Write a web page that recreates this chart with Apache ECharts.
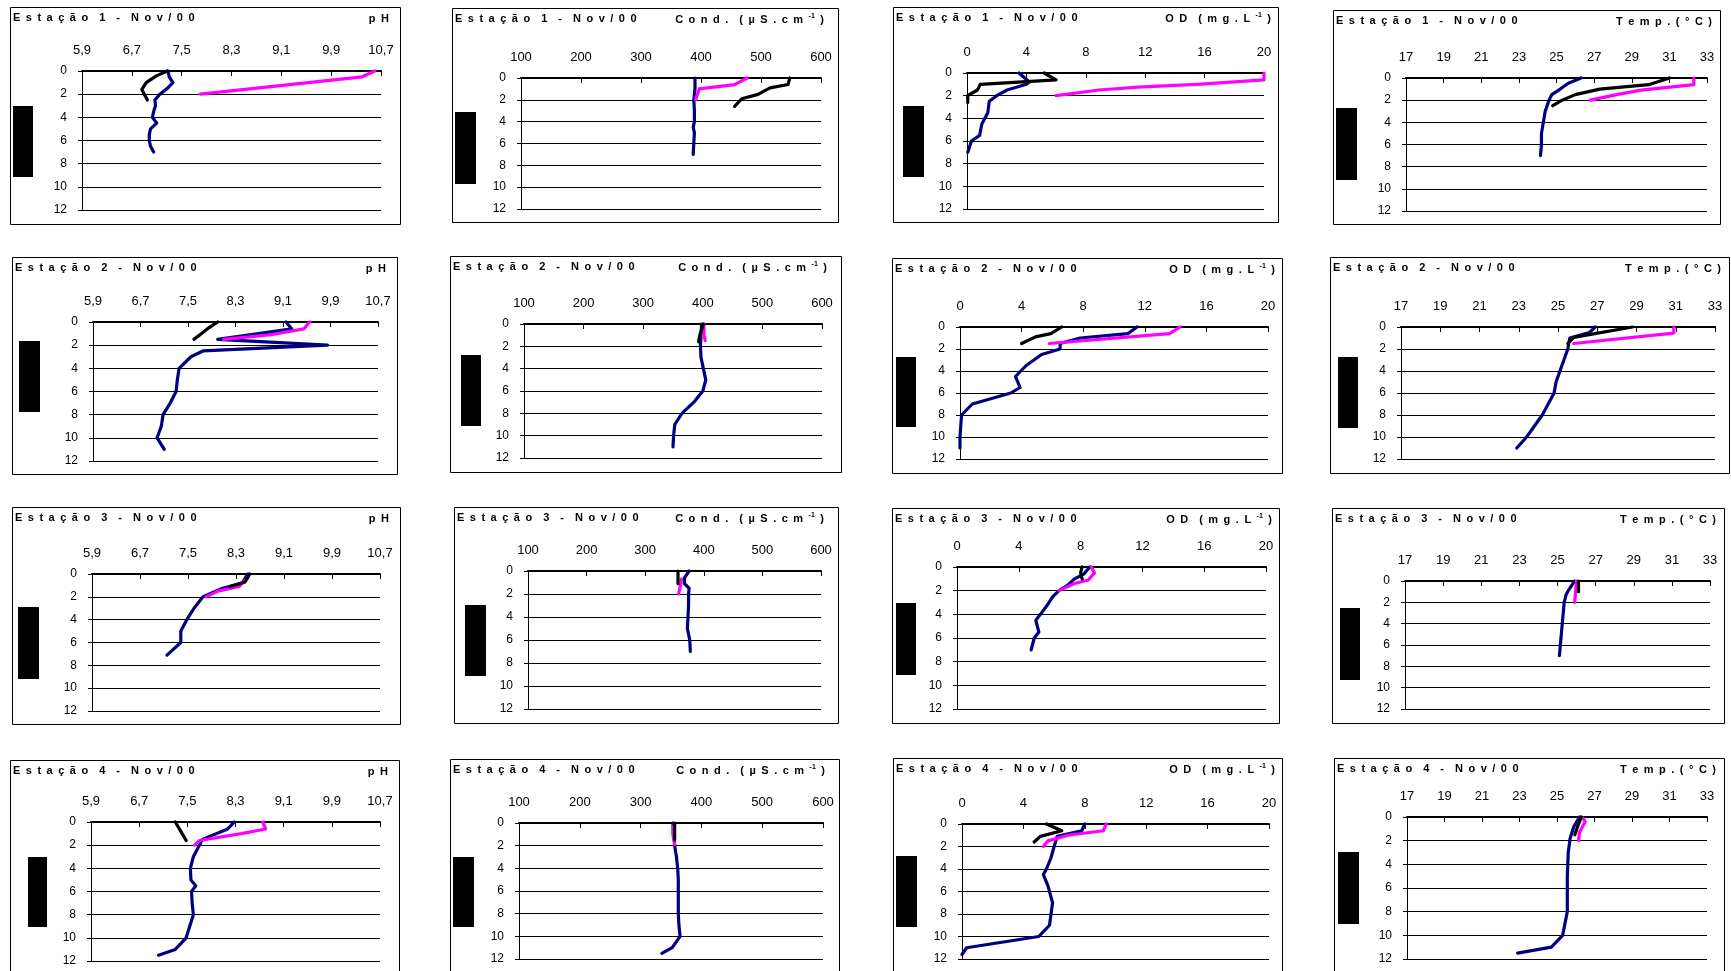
<!DOCTYPE html>
<html><head><meta charset="utf-8">
<script src="https://cdn.jsdelivr.net/npm/echarts@6/dist/echarts.min.js"></script>
<style>html,body{margin:0;padding:0;background:#fff}#c{width:1731px;height:971px}</style>
</head><body><div id="c"></div>
<script>
// ---------- tick labels ----------
const depthTicks = [0, 2, 4, 6, 8, 10, 12];
const phTicks = [5.9, 6.7, 7.5, 8.3, 9.1, 9.9, 10.7];
const condTicks = [100, 200, 300, 400, 500, 600];
const odTicks = [0, 4, 8, 12, 16, 20];
const tempTicks = [17, 19, 21, 23, 25, 27, 29, 31, 33];

const stations = ['Estação 1 - Nov/00', 'Estação 2 - Nov/00', 'Estação 3 - Nov/00', 'Estação 4 - Nov/00'];

// ---------- data: [value, depth (m)] ; k = black, m = magenta, n = navy ----------
const e1_pH_k = [[7.27,0],[7.1,0.4],[6.93,1.0],[6.86,1.6],[6.95,2.5]];
const e1_pH_m = [[10.6,0],[10.4,0.5],[7.8,2.0]];
const e1_pH_n = [[7.28,0],[7.3,0.5],[7.36,1.0],[7.27,1.5],[7.15,2.0],[7.07,2.5],[7.08,3.0],[7.05,3.5],[7.03,4.0],[7.1,4.5],[7.0,5.0],[6.98,5.5],[6.98,6.0],[7.0,6.5],[7.05,7.0]];
const e1_cond_k = [[548,0],[545,0.6],[515,0.9],[495,1.5],[468,1.9],[456,2.6]];
const e1_cond_m = [[477,0],[456,0.6],[397,1.0],[391,2.0]];
const e1_cond_n = [[390,0],[390,1],[388,2],[389,3],[389,4],[387,4.5],[389,5],[388,6],[387,7]];
const e1_od_k = [[5.2,0],[6.0,0.6],[0.9,1.0],[0.7,1.5],[0.05,2.0],[0.05,2.6]];
const e1_od_m = [[20,0],[20,0.6],[15.5,1.0],[11.5,1.25],[8.9,1.5],[6,2.0]];
const e1_od_n = [[3.5,0],[4.2,0.8],[4.0,1.0],[2.7,1.5],[2.0,2.0],[1.5,2.5],[1.4,3.5],[1.0,4.5],[0.85,5.5],[0.3,6.0],[0.05,7.0]];
const e1_temp_k = [[31,0],[29.9,0.6],[27.3,1.0],[26,1.5],[25.3,2.0],[24.8,2.5]];
const e1_temp_m = [[32.3,0],[32.3,0.6],[29.5,1.1],[28.2,1.5],[26.8,2.0]];
const e1_temp_n = [[26.3,0],[25.6,0.5],[25.2,1.0],[24.75,1.5],[24.6,2.0],[24.5,2.5],[24.4,3.0],[24.3,4.0],[24.2,5.0],[24.2,6.0],[24.15,7.0]];

const e2_pH_k = [[8.0,0],[7.85,0.5],[7.75,0.9],[7.6,1.5]];
const e2_pH_m = [[9.55,0],[9.45,0.6],[8.9,1.1],[8.1,1.5]];
const e2_pH_n = [[9.15,0],[9.25,0.6],[8.0,1.5],[9.85,2.0],[7.75,2.5],[7.55,3.0],[7.35,4.0],[7.32,5.0],[7.3,6.0],[7.2,7.0],[7.08,8.0],[7.05,9.0],[6.98,10.0],[7.1,11.0]];
const e2_cond_k = [[401,0],[398,0.5],[395,1.0],[393,1.6]];
const e2_cond_m = [[402,0],[402,1.0],[404,1.5]];
const e2_cond_n = [[398,0],[397,1],[396,2],[397,3],[401,4],[405,5],[400,6],[385,7],[365,8],[353,9],[351,10],[350,11]];
const e2_od_k = [[6.6,0],[5.9,0.6],[4.9,0.9],[4.0,1.5]];
const e2_od_m = [[14.3,0],[13.6,0.6],[5.8,1.5]];
const e2_od_n = [[11.5,0],[10.9,0.6],[7.8,1.0],[6.5,1.5],[6.5,2.0],[5.3,2.5],[4.3,3.5],[3.6,4.5],[3.9,5.5],[3.3,6.0],[0.8,7.0],[0.1,8.0],[0.05,9.0],[0,10],[0,11]];
const e2_temp_k = [[28.8,0],[25.8,0.95],[25.5,1.5]];
const e2_temp_m = [[30.9,0],[30.9,0.55],[25.8,1.5]];
const e2_temp_n = [[26.9,0],[26.6,0.5],[25.6,1.0],[25.5,2.0],[25.3,3.0],[25.1,4.0],[24.9,5.0],[24.8,6.0],[24.5,7.0],[24.2,8.0],[23.8,9.0],[23.4,10.0],[22.9,11.0]];

const e3_pH_k = [[8.53,0],[8.45,0.7],[8.2,1.1]];
const e3_pH_m = [[8.5,0.3],[8.35,1.1],[8.0,1.5],[7.8,2.0]];
const e3_pH_n = [[8.5,0],[8.4,0.8],[8.05,1.3],[7.75,2.0],[7.6,3.0],[7.48,4.0],[7.38,5.0],[7.38,6.0],[7.15,7.1]];
const e3_cond_k = [[356,0],[356,1.1]];
const e3_cond_m = [[362,0.7],[360,1.3],[357,2.0]];
const e3_cond_n = [[375,0],[367,0.6],[367,1.1],[375,1.5],[374,2],[374,3],[373,4],[372,5],[376,6],[377,7]];
const e3_od_k = [[8.1,0],[8.0,0.5],[8.1,1.0]];
const e3_od_m = [[8.7,0],[8.9,0.5],[8.5,1.1],[7.6,1.4],[6.6,2.0]];
const e3_od_n = [[8.6,0],[8.2,0.6],[7.6,1.0],[7.2,1.5],[6.6,2.0],[6.2,2.5],[5.8,3.3],[5.4,4.0],[5.1,4.5],[5.3,5.5],[5.0,6.0],[4.8,7.0]];
const e3_temp_k = [[26.1,0],[26.1,1.0]];
const e3_temp_m = [[26.0,0],[25.95,1.0],[25.9,2.0]];
const e3_temp_n = [[25.9,0],[25.6,0.8],[25.45,1.3],[25.35,2.0],[25.3,3.0],[25.25,4.0],[25.2,5.0],[25.15,6.0],[25.1,7.0]];

const e4_pH_k = [[7.3,0],[7.38,0.7],[7.48,1.6]];
const e4_pH_m = [[8.75,0],[8.8,0.6],[8.4,1.0],[7.7,1.6],[7.62,2.0]];
const e4_pH_n = [[8.28,0],[8.17,0.6],[7.75,1.5],[7.65,2.5],[7.6,3.0],[7.55,4.0],[7.56,5.0],[7.64,5.5],[7.57,6.0],[7.58,7.0],[7.6,8.0],[7.54,9.0],[7.48,10.0],[7.3,11.0],[7.02,11.5]];
const e4_cond_k = [[356,0],[356,1.5]];
const e4_cond_m = [[353,0.3],[353,1.0],[356,1.9]];
const e4_cond_n = [[353,0],[355,1],[356,2],[359,3],[361,4],[362,5],[362,6],[362,7],[362,8],[363,9],[365,10],[352,11],[335,11.5]];
const e4_od_k = [[5.5,0],[6.5,0.6],[5.1,1.1],[4.7,1.6]];
const e4_od_m = [[9.4,0],[9.2,0.6],[6.9,1.0],[5.6,1.5],[5.3,2.0]];
const e4_od_n = [[8.0,0],[7.8,0.6],[6.2,1.1],[6.0,2.0],[5.8,3.0],[5.5,4.0],[5.3,4.5],[5.6,5.5],[5.9,7.0],[5.7,9.0],[5.0,10.0],[0.3,11.0],[0,11.6]];
const e4_temp_k = [[26.3,0],[26.1,0.8],[25.95,1.5]];
const e4_temp_m = [[26.4,0.1],[26.5,0.4],[26.2,1.3],[26.15,2.0]];
const e4_temp_n = [[26.2,0],[25.9,0.8],[25.7,1.8],[25.6,3.0],[25.55,5.0],[25.55,8.0],[25.3,10.0],[24.7,11.0],[22.9,11.5]];

const panelData = [
  [[e1_pH_k,e1_pH_m,e1_pH_n],[e1_cond_k,e1_cond_m,e1_cond_n],[e1_od_k,e1_od_m,e1_od_n],[e1_temp_k,e1_temp_m,e1_temp_n]],
  [[e2_pH_k,e2_pH_m,e2_pH_n],[e2_cond_k,e2_cond_m,e2_cond_n],[e2_od_k,e2_od_m,e2_od_n],[e2_temp_k,e2_temp_m,e2_temp_n]],
  [[e3_pH_k,e3_pH_m,e3_pH_n],[e3_cond_k,e3_cond_m,e3_cond_n],[e3_od_k,e3_od_m,e3_od_n],[e3_temp_k,e3_temp_m,e3_temp_n]],
  [[e4_pH_k,e4_pH_m,e4_pH_n],[e4_cond_k,e4_cond_m,e4_cond_n],[e4_od_k,e4_od_m,e4_od_n],[e4_temp_k,e4_temp_m,e4_temp_n]]
];

// ---------- layout (pixels) ----------
const plotRects = [
  [[82,71,381,210],[521,78,821,209],[967,73,1264,209],[1406,78,1707,211]],
  [[93,322,378,461],[524,324,822,458],[960,327,1268,459],[1401,327,1715,459]],
  [[92,574,380,711],[528,571,821,709],[957,567,1266,709],[1405,581,1710,709]],
  [[91,822,380,961],[519,823,823,959],[962,824,1269,959],[1407,817,1707,959]]
];
const boxRects = [
  [[10,7,400,224],[452,8,838,222],[893,7,1278,222],[1333,10,1720,224]],
  [[12,257,397,474],[450,256,841,472],[892,258,1282,473],[1330,257,1729,473]],
  [[12,507,400,724],[454,507,838,723],[892,508,1279,723],[1332,508,1724,723]],
  [[10,760,399,990],[450,759,839,990],[893,758,1282,990],[1334,758,1724,990]]
];
const blockRects = [
  [[13,106,33,177],[455,112,476,184],[903,106,924,177],[1336,108,1357,180]],
  [[19,341,40,412],[461,355,481,426],[896,357,916,427],[1338,357,1358,428]],
  [[18,607,39,679],[465,605,486,676],[896,603,916,675],[1340,608,1360,680]],
  [[28,857,47,927],[453,857,474,927],[896,856,917,927],[1338,852,1359,924]]
];
const unitRightPad = [11, 14, 7, 8];

const EN = '\u2002';
const wide = s => s.split(' ').map(w => w.split('').join(EN)).join(EN + EN);
const fmtComma = v => v.toFixed(1).replace('.', ',');
const fmtInt = v => String(Math.round(v));

const params = [
  { ticks: phTicks, min: 5.9, max: 10.7, fmt: fmtComma,
    unit: '{a|' + wide('pH') + '}' },
  { ticks: condTicks, min: 100, max: 600, fmt: fmtInt,
    unit: '{a|' + wide('Cond. (µS.cm') + EN + '}{s|-1}{a|' + EN + ')}' },
  { ticks: odTicks, min: 0, max: 20, fmt: fmtInt,
    unit: '{a|' + wide('OD (mg.L') + EN + '}{s|-1}{a|' + EN + ')}' },
  { ticks: tempTicks, min: 17, max: 33, fmt: fmtInt,
    unit: '{a|' + wide('Temp.(°C)') + '}' }
];

const colors = ['#000000', '#ff00ff', '#000080'];
const drawOrder = [2, 1, 0];
const labelFont = "'Liberation Sans Narrow', 'Arial Narrow', 'Liberation Sans', Arial, sans-serif";
const titleFont = "bold 11px 'Liberation Sans', Arial, sans-serif";

const grid = [], xAxis = [], yAxis = [], series = [], elements = [];
let gi = 0;
for (let r = 0; r < 4; r++) {
  for (let c = 0; c < 4; c++) {
    const pr = plotRects[r][c], p = params[c];
    grid.push({ left: pr[0], top: pr[1], width: pr[2] - pr[0], height: pr[3] - pr[1], containLabel: false });
    xAxis.push({
      gridIndex: gi, type: 'value', position: 'top', min: p.min, max: p.max,
      axisLine: { show: true, onZero: false, lineStyle: { color: '#000', width: 2 } },
      axisTick: { show: true, inside: true, length: 5, customValues: p.ticks, lineStyle: { color: '#000', width: 1 } },
      axisLabel: { show: true, customValues: p.ticks, formatter: p.fmt, color: '#000', fontSize: 13, fontFamily: labelFont, margin: 14 },
      splitLine: { show: false }
    });
    yAxis.push({
      gridIndex: gi, type: 'value', inverse: true, min: 0, max: 12, interval: 2,
      axisLine: { show: true, onZero: false, lineStyle: { color: '#000', width: 1 } },
      axisTick: { show: true, inside: false, length: 4, lineStyle: { color: '#000', width: 1 } },
      axisLabel: { show: true, customValues: depthTicks, formatter: v => String(v), color: '#000', fontSize: 12, fontFamily: labelFont, margin: 15 },
      splitLine: { show: true, lineStyle: { color: '#000', width: 1 } }
    });
    drawOrder.forEach((k, zi) => {
      series.push({
        type: 'line', xAxisIndex: gi, yAxisIndex: gi, data: panelData[r][c][k],
        showSymbol: false, symbol: 'none', clip: false, smooth: false, z: 3 + zi,
        lineStyle: { color: colors[k], width: 3.2, cap: 'round', join: 'round' },
        emphasis: { disabled: true }, silent: true
      });
    });
    const br = boxRects[r][c];
    elements.push({ type: 'rect', shape: { x: br[0] + 0.5, y: br[1] + 0.5, width: br[2] - br[0], height: br[3] - br[1] },
      style: { fill: 'none', stroke: '#000', lineWidth: 1 }, z: 1, silent: true });
    const bk = blockRects[r][c];
    elements.push({ type: 'rect', shape: { x: bk[0], y: bk[1], width: bk[2] - bk[0], height: bk[3] - bk[1] },
      style: { fill: '#000' }, z: 2, silent: true });
    elements.push({ type: 'text', x: br[0] + 3, y: br[1] + 11, z: 5, silent: true,
      style: { text: wide(stations[r]), font: titleFont, fill: '#000', align: 'left', verticalAlign: 'middle' } });
    elements.push({ type: 'text', x: br[2] - unitRightPad[c], y: br[1] + 12, z: 5, silent: true,
      style: { text: p.unit, fill: '#000', align: 'right', verticalAlign: 'middle',
        rich: {
          a: { fontSize: 11, fontWeight: 'bold', fontFamily: "'Liberation Sans', Arial, sans-serif", fill: '#000' },
          s: { fontSize: 7, fontWeight: 'bold', fontFamily: "'Liberation Sans', Arial, sans-serif", fill: '#000', padding: [0, 0, 7, 0] }
        } } });
    gi++;
  }
}

const chart = echarts.init(document.getElementById('c'), null, { renderer: 'canvas', width: 1731, height: 971 });
chart.setOption({
  backgroundColor: '#ffffff',
  animation: false,
  grid, xAxis, yAxis, series,
  graphic: { elements }
});
</script></body></html>
